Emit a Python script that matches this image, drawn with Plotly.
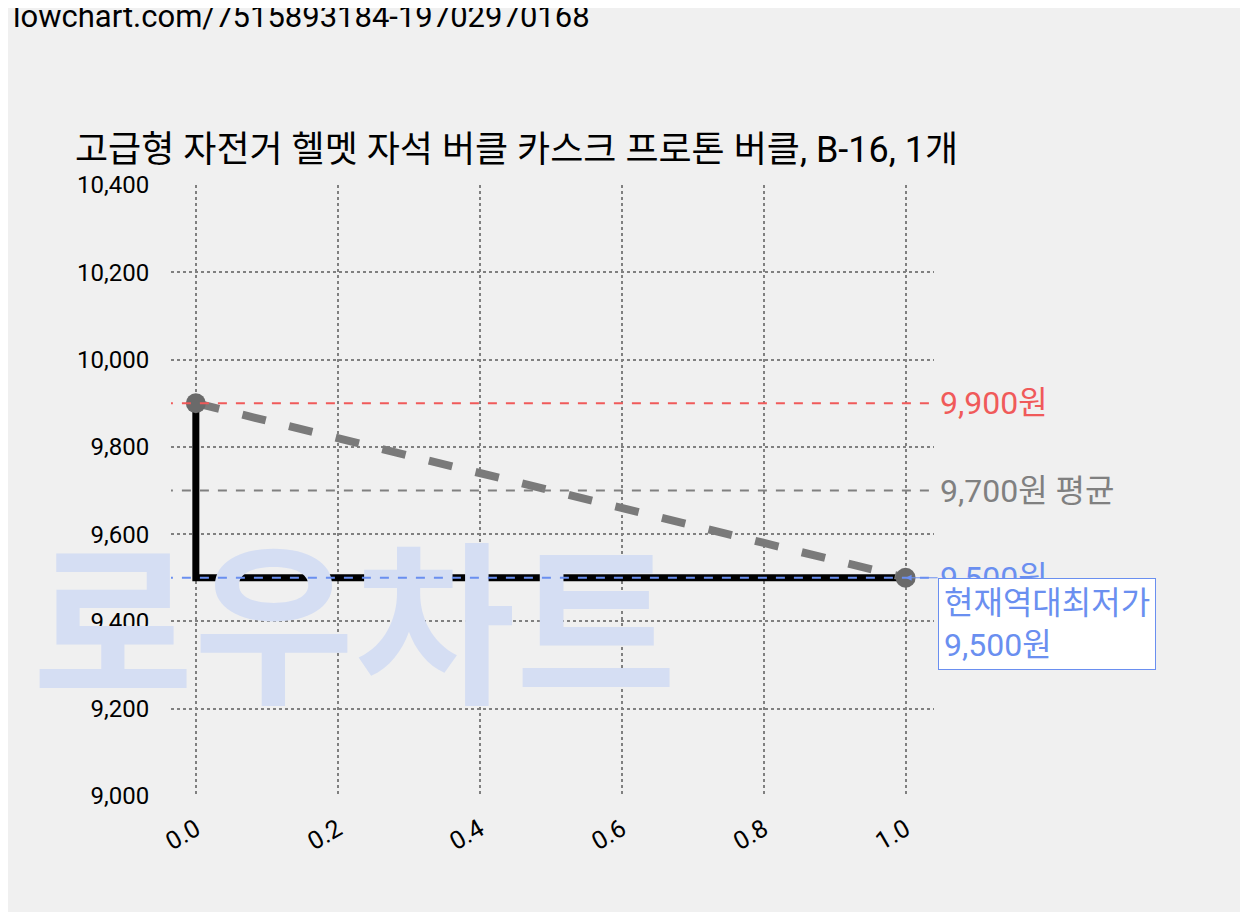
import plotly.graph_objects as go

title = "고급형 자전거 헬멧 자석 버클 카스크 프로톤 버클, B-16, 1개"
xs = [0.0, 1.0]
prices = [9900, 9500]
max_p, avg_p, min_p = 9900, 9700, 9500
yticks = [9000, 9200, 9400, 9600, 9800, 10000, 10200, 10400]
xticks = [0.0, 0.2, 0.4, 0.6, 0.8, 1.0]
F = "Roboto, Noto Sans CJK KR"

fig = go.Figure()
# watermark on a full-page overlay axis, drawn beneath the main plot
fig.add_trace(go.Scatter(x=[300], y=[688], mode="text", text=["<b>로우차트</b>"],
                         textfont=dict(size=175, color="#d5def3", family="Noto Sans CJK KR"),
                         xaxis="x2", yaxis="y2", hoverinfo="skip", cliponaxis=False))
for v, c in [(max_p, "#f05a5a"), (avg_p, "#808080"), (min_p, "#6a8ff0")]:
    fig.add_shape(type="line", xref="x", yref="y", x0=-0.045, x1=1.045, y0=v, y1=v,
                  line=dict(color=c, width=2, dash="dash"))
fig.add_trace(go.Scatter(x=xs, y=prices, mode="lines", line=dict(color="black", width=7, shape="vh")))
fig.add_trace(go.Scatter(x=xs, y=prices, mode="lines+markers",
                         line=dict(color="#7a7a7a", width=8, dash="dash"),
                         marker=dict(size=20, color="#6a6a6a")))
lab = [(max_p, "9,900원", "#f05a5a"), (avg_p, "9,700원 평균", "#808080"), (min_p, "9,500원", "#6a8ff0")]
for v, t, c in lab:
    fig.add_annotation(x=1.0, y=v, xref="paper", yref="y", text=t, showarrow=False, xanchor="left",
                       xshift=4, font=dict(size=32, color=c, family=F))
fig.add_annotation(x=1.0, y=min_p, xref="x", yref="y", text="현재역대최저가<br>9,500원",
                   showarrow=True, arrowhead=2, arrowsize=1.2, arrowcolor="#6a8ff0", ax=32, ay=0,
                   xanchor="left", yanchor="top", align="left", bgcolor="white",
                   bordercolor="#6a8ff0", borderwidth=1, borderpad=5,
                   font=dict(size=32, color="#6a8ff0", family=F))
fig.add_annotation(xref="paper", yref="paper", x=-0.21, y=1.31, xanchor="left", yanchor="top",
                   text="lowchart.com/7515893184-19702970168", showarrow=False,
                   font=dict(size=31, color="black", family=F))
fig.add_annotation(xref="paper", yref="paper", x=-0.128, y=1.02, xanchor="left", yanchor="bottom",
                   text=title, showarrow=False, font=dict(size=36, color="black", family=F))
fig.update_layout(
    width=1248, height=912, showlegend=False,
    paper_bgcolor="#f0f0f0", plot_bgcolor="rgba(0,0,0,0)",
    margin=dict(l=163, r=322, t=177, b=124),
    xaxis2=dict(domain=[0, 1], range=[0, 1248], visible=False, overlaying=None, anchor="y2"),
    yaxis2=dict(domain=[0, 1], range=[912, 0], visible=False, anchor="x2"),
    xaxis=dict(range=[-0.035, 1.04], tickvals=xticks, ticktext=[f"{v:.1f}" for v in xticks],
               tickangle=-30, showgrid=True, gridcolor="#808080", griddash="dot", gridwidth=2,
               zeroline=False, tickfont=dict(size=25, family=F, color="black"), showline=False,
               ticks="outside", ticklen=8, tickcolor="rgba(0,0,0,0)"),
    yaxis=dict(range=[9000, 10400], tickvals=yticks, ticktext=[f"{v:,}" for v in yticks],
               showgrid=True, gridcolor="#808080", griddash="dot", gridwidth=2, zeroline=False,
               tickfont=dict(size=24, family=F, color="black"), showline=False,
               ticks="outside", ticklen=16, tickcolor="rgba(0,0,0,0)"),
)
fig.update_layout(margin=dict(l=163, r=322, t=177, b=124))
fig.write_html("out.html")
